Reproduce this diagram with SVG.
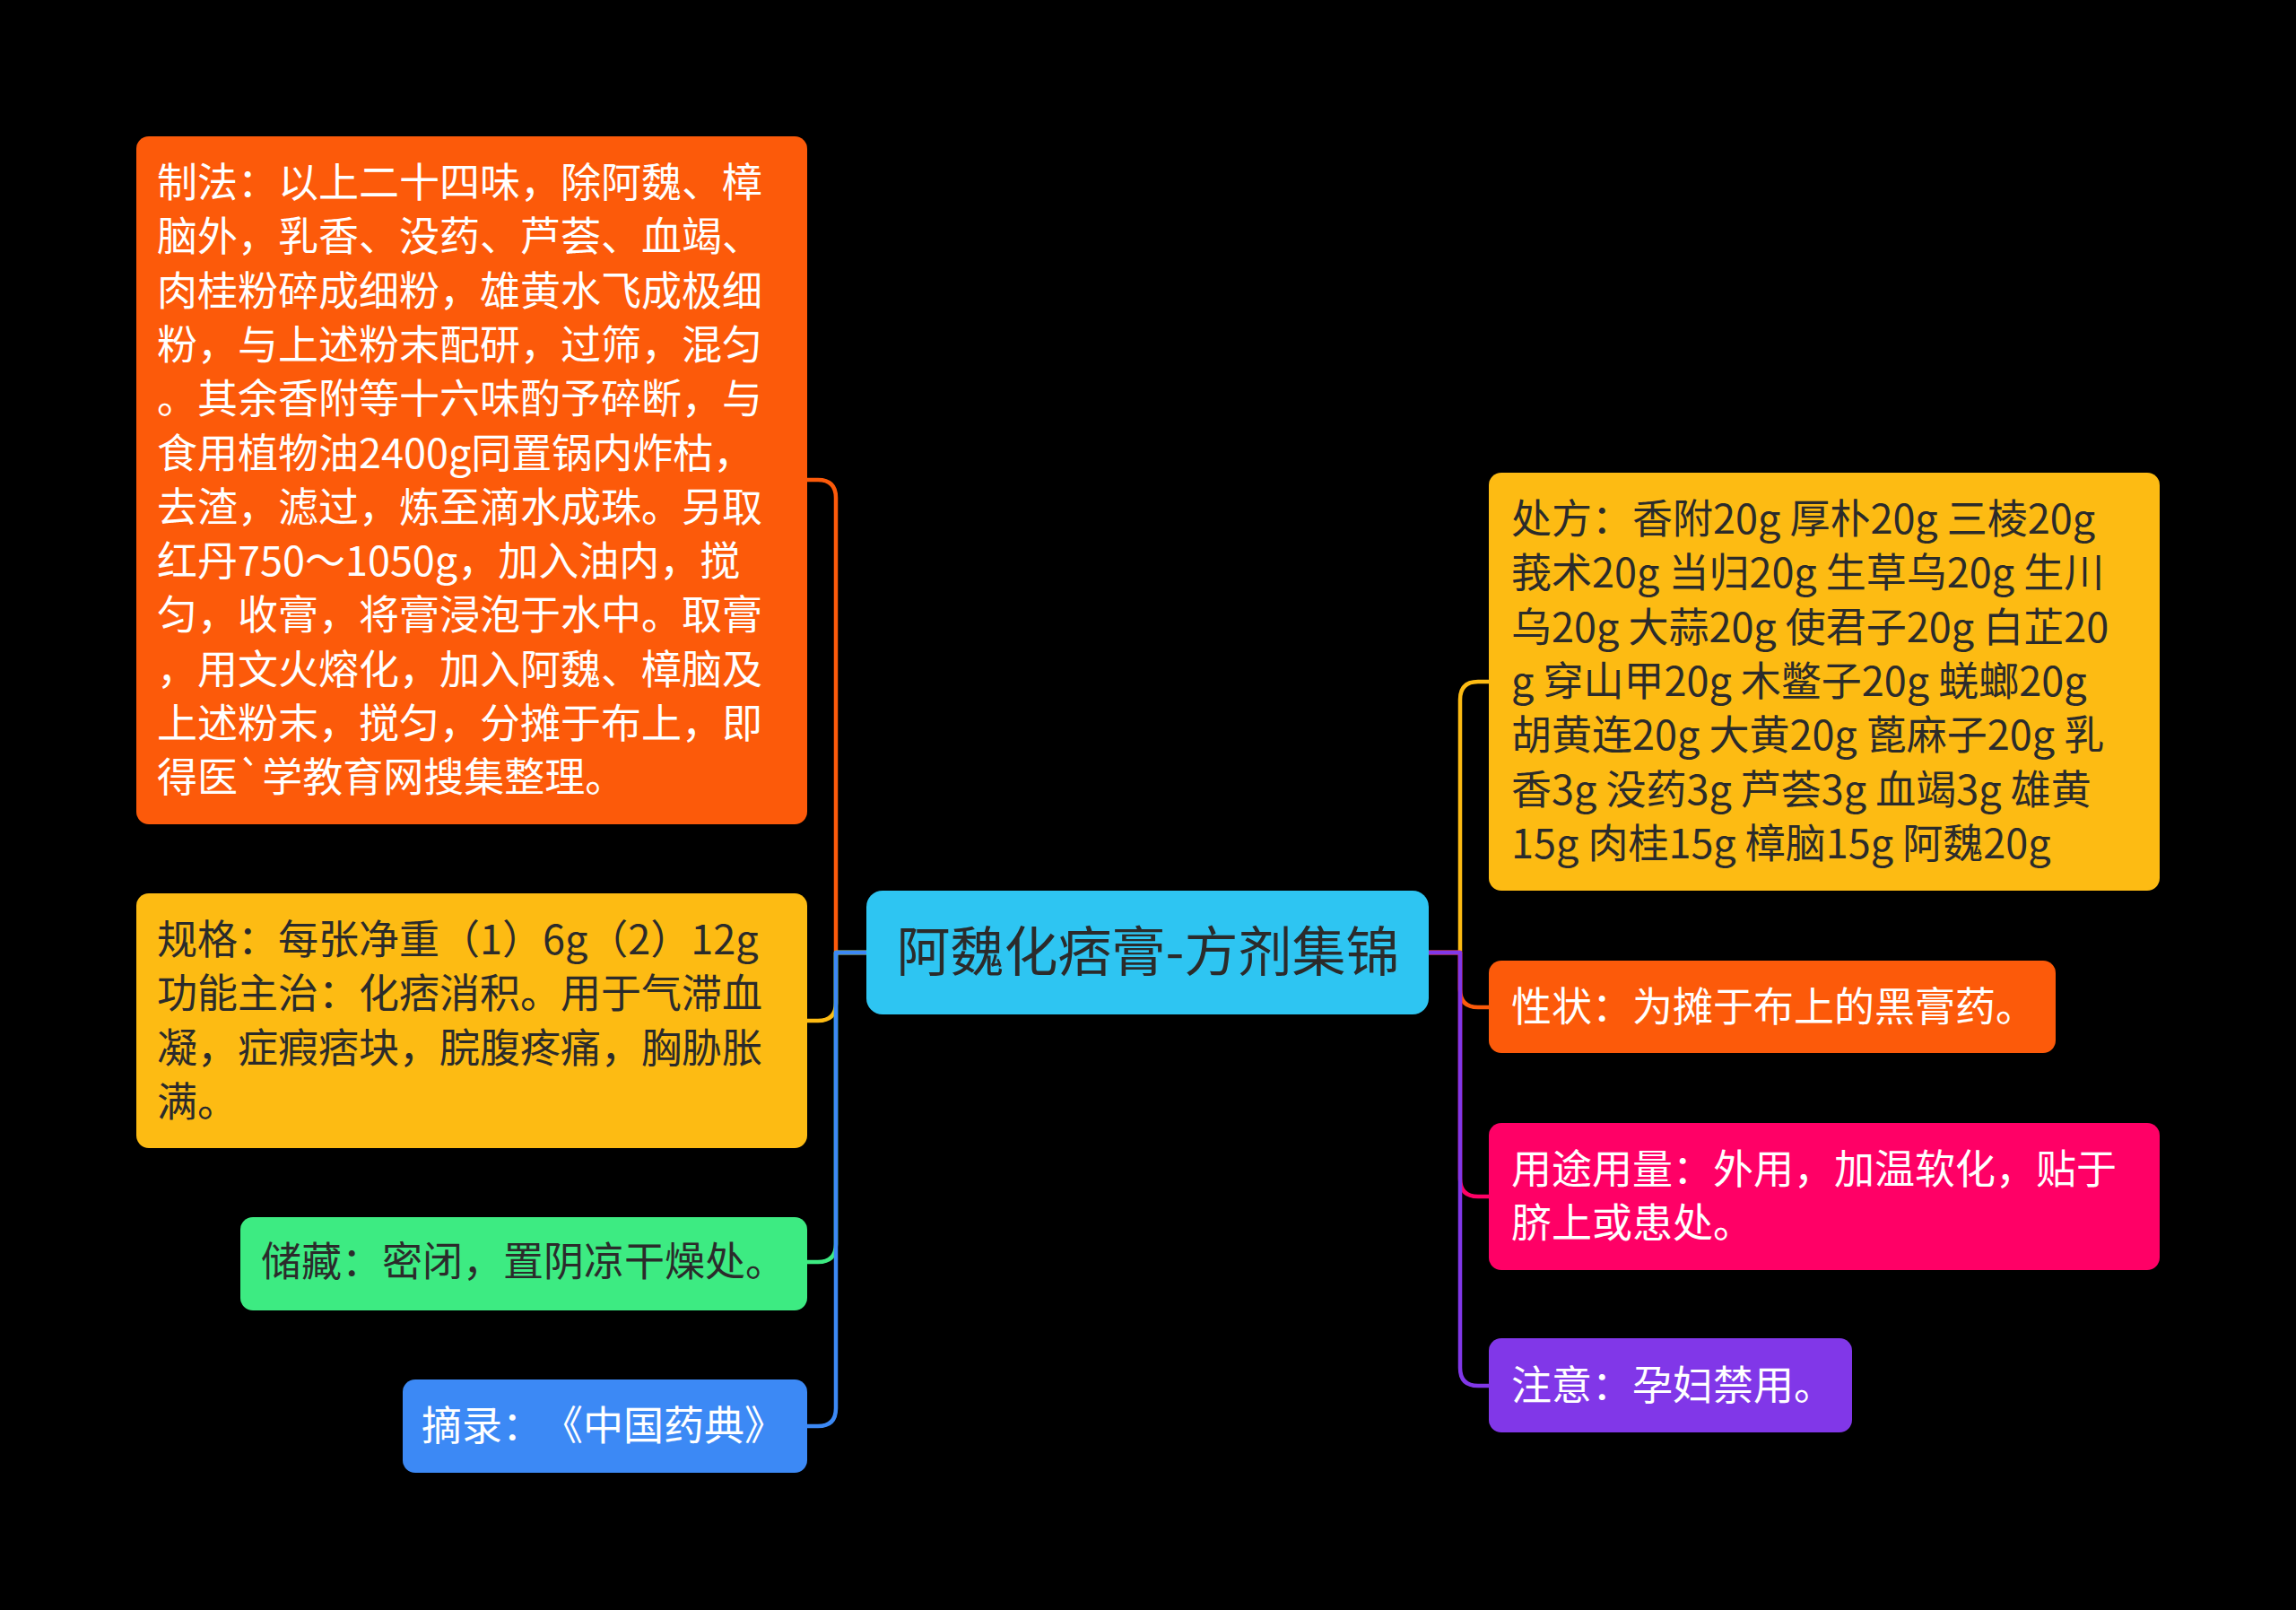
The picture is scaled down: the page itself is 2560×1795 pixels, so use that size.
<svg xmlns="http://www.w3.org/2000/svg" width="2560" height="1795" viewBox="0 0 2560 1795">
<style>
text{font-family:"Noto Sans CJK SC","Noto Sans",sans-serif;font-size:45px;text-spacing-trim:space-all}
.w{fill:#ffffff}
.d{fill:#2b2b2b}
.c{fill:none;stroke-width:4.5;stroke-linecap:round;stroke-linejoin:round}
</style>
<rect width="2560" height="1795" fill="#000"/>
<g id="connectors">
<path class="c" stroke="#FC5A0A" d="M966 1062 H932 V555 Q932 535 912 535 H900"/>
<path class="c" stroke="#FDBB13" d="M966 1062 H932 V1118 Q932 1138 912 1138 H900"/>
<path class="c" stroke="#3DEB82" d="M966 1062 H932 V1387 Q932 1407 912 1407 H900"/>
<path class="c" stroke="#3C89F5" d="M966 1062 H932 V1570 Q932 1590 912 1590 H900"/>
<path class="c" stroke="#FDBB13" d="M1593 1062 H1628 V780 Q1628 760 1648 760 H1660"/>
<path class="c" stroke="#FC5A0A" d="M1593 1062 H1628 V1103 Q1628 1123 1648 1123 H1660"/>
<path class="c" stroke="#FF0066" d="M1593 1062 H1628 V1314 Q1628 1334 1648 1334 H1660"/>
<path class="c" stroke="#8137E8" d="M1593 1062 H1628 V1525 Q1628 1545 1648 1545 H1660"/>
</g>
<g id="center">
<rect x="966" y="993" width="627" height="138" rx="18" fill="#2EC5F2"/>
<text x="1280" y="1083" text-anchor="middle" class="d" style="font-size:60px">阿魏化痞膏-方剂集锦</text>
</g>
<g id="node-zhifa">
<rect x="152" y="152" width="748" height="767" rx="14" fill="#FC5A0A"/>
<text class="w" x="175">
<tspan x="175" y="220">制法：以上二十四味，除阿魏、樟</tspan>
<tspan x="175" y="280.3">脑外，乳香、没药、芦荟、血竭、</tspan>
<tspan x="175" y="340.6">肉桂粉碎成细粉，雄黄水飞成极细</tspan>
<tspan x="175" y="400.9">粉，与上述粉末配研，过筛，混匀</tspan>
<tspan x="175" y="461.2">。其余香附等十六味酌予碎断，与</tspan>
<tspan x="175" y="521.5">食用植物油2400g同置锅内炸枯，</tspan>
<tspan x="175" y="581.8">去渣，滤过，炼至滴水成珠。另取</tspan>
<tspan x="175" y="642.1">红丹750～1050g，加入油内，搅</tspan>
<tspan x="175" y="702.4">匀，收膏，将膏浸泡于水中。取膏</tspan>
<tspan x="175" y="762.7">，用文火熔化，加入阿魏、樟脑及</tspan>
<tspan x="175" y="823">上述粉末，搅匀，分摊于布上，即</tspan>
<tspan x="175" y="883.3">得医`学教育网搜集整理。</tspan>
</text>
</g>
<g id="node-guige">
<rect x="152" y="996" width="748" height="284" rx="14" fill="#FDBB13"/>
<text class="d">
<tspan x="175" y="1064">规格：每张净重（1）6g（2）12g</tspan>
<tspan x="175" y="1124.3">功能主治：化痞消积。用于气滞血</tspan>
<tspan x="175" y="1184.6">凝，症瘕痞块，脘腹疼痛，胸胁胀</tspan>
<tspan x="175" y="1244.9">满。</tspan>
</text>
</g>
<g id="node-chucang">
<rect x="268" y="1357" width="632" height="104" rx="14" fill="#3DEB82"/>
<text class="d" x="291" y="1423">储藏：密闭，置阴凉干燥处。</text>
</g>
<g id="node-zhailu">
<rect x="449" y="1538" width="451" height="104" rx="14" fill="#3C89F5"/>
<text class="w" x="470" y="1606">摘录：《中国药典》</text>
</g>
<g id="node-chufang">
<rect x="1660" y="527" width="748" height="466" rx="14" fill="#FDBB13"/>
<text class="d">
<tspan x="1685" y="595">处方：香附20g 厚朴20g 三棱20g</tspan>
<tspan x="1685" y="655.3">莪术20g 当归20g 生草乌20g 生川</tspan>
<tspan x="1685" y="715.6">乌20g 大蒜20g 使君子20g 白芷20</tspan>
<tspan x="1685" y="775.9">g 穿山甲20g 木鳖子20g 蜣螂20g</tspan>
<tspan x="1685" y="836.2">胡黄连20g 大黄20g 蓖麻子20g 乳</tspan>
<tspan x="1685" y="896.5">香3g 没药3g 芦荟3g 血竭3g 雄黄</tspan>
<tspan x="1685" y="956.8">15g 肉桂15g 樟脑15g 阿魏20g</tspan>
</text>
</g>
<g id="node-xingzhuang">
<rect x="1660" y="1071" width="632" height="103" rx="14" fill="#FC5A0A"/>
<text class="w" x="1685" y="1139">性状：为摊于布上的黑膏药。</text>
</g>
<g id="node-yongtu">
<rect x="1660" y="1252" width="748" height="164" rx="14" fill="#FF0066"/>
<text class="w">
<tspan x="1685" y="1320">用途用量：外用，加温软化，贴于</tspan>
<tspan x="1685" y="1380.3">脐上或患处。</tspan>
</text>
</g>
<g id="node-zhuyi">
<rect x="1660" y="1492" width="405" height="105" rx="14" fill="#8137E8"/>
<text class="w" x="1685" y="1561">注意：孕妇禁用。</text>
</g>
</svg>
